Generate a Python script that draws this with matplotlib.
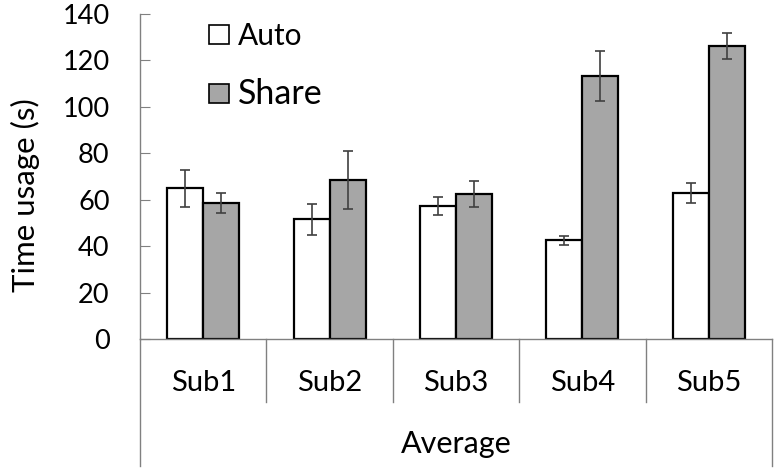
import matplotlib.pyplot as plt
import numpy as np
from matplotlib.patches import Patch
from matplotlib.lines import Line2D

subjects = ['Sub1', 'Sub2', 'Sub3', 'Sub4', 'Sub5']
auto_mean = [64.9, 51.6, 57.3, 42.5, 63.0]
auto_err = [8.1, 6.6, 4.0, 2.0, 4.4]
share_mean = [58.5, 68.5, 62.5, 113.2, 126.4]
share_err = [4.2, 12.6, 5.5, 10.8, 5.6]

plt.rcParams['font.family'] = ['Lato', 'DejaVu Sans']

fig = plt.figure(figsize=(7.74, 4.68), dpi=100)
ax = fig.add_axes([0.181, 0.2756, 0.8164, 0.6944])

x = np.arange(len(subjects))
w = 0.285
errkw = dict(ecolor='#404040', elinewidth=1.2, capsize=3.6, capthick=1.2)
ax.bar(x - w / 2, auto_mean, w, yerr=auto_err, color='white', edgecolor='black',
       linewidth=1.6, error_kw=errkw, label='Auto', zorder=2)
ax.bar(x + w / 2, share_mean, w, yerr=share_err, color='#a6a6a6', edgecolor='black',
       linewidth=1.6, error_kw=errkw, label='Share', zorder=2)

ax.set_xlim(-0.5, len(subjects) - 0.5)
ax.set_ylim(0, 140)
ax.set_yticks(range(0, 141, 20))
ax.tick_params(axis='y', labelsize=19.5, length=7, direction='in', color='#808080', pad=22)
ax.set_xticks([])
ax.set_ylabel('Time usage (s)', fontsize=22.5)
ax.yaxis.set_label_coords(-0.158, 0.443)

for s in ['top', 'right']:
    ax.spines[s].set_visible(False)
for s in ['left', 'bottom']:
    ax.spines[s].set_color('#808080')
    ax.spines[s].set_linewidth(1.0)

# category table below the axis
trans = ax.get_xaxis_transform()
for i in range(len(subjects) + 1):
    xs = i - 0.5
    bottom = -0.39 if i in (0, len(subjects)) else -0.195
    ax.add_line(Line2D([xs, xs], [0, bottom], transform=trans, color='#808080',
                       linewidth=1.0, clip_on=False))
for i, name in enumerate(subjects):
    ax.text(i, -0.136, name, transform=trans, ha='center', va='center', fontsize=21)
ax.text((len(subjects) - 1) / 2, -0.322, 'Average', transform=trans, ha='center',
        va='center', fontsize=22)

handles = [Patch(facecolor='white', edgecolor='black', linewidth=1.2),
           Patch(facecolor='#a6a6a6', edgecolor='black', linewidth=1.2)]
leg = ax.legend(handles, ['Auto', 'Share'], loc='upper left', bbox_to_anchor=(0.067, 1.058),
                frameon=False, fontsize=21.5, handlelength=0.67, handleheight=0.6,
                handletextpad=0.3, labelspacing=0.95)
leg.get_texts()[1].set_fontsize(24.5)

fig.savefig('out.png', dpi=100)
